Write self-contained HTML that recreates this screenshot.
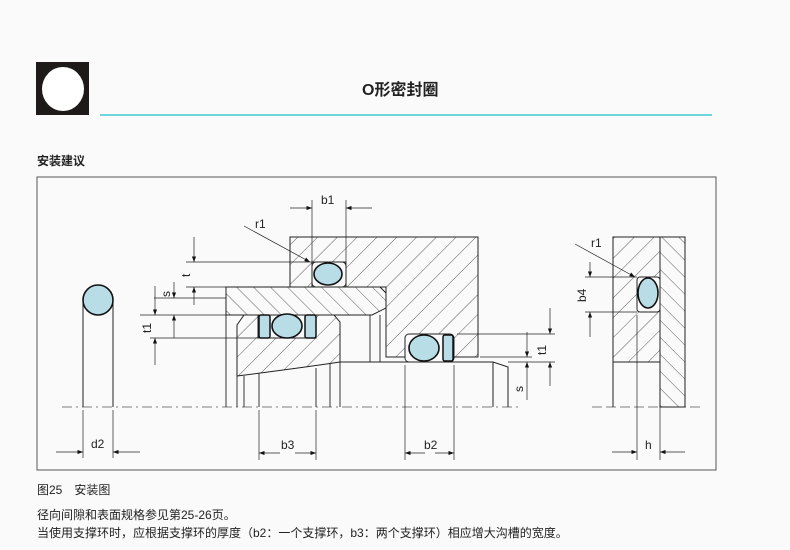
<!DOCTYPE html>
<html><head><meta charset="utf-8"><style>
body{margin:0;background:#fafafa;width:790px;height:550px;overflow:hidden;font-family:"Liberation Sans","Noto Sans CJK SC",sans-serif;}
.t{position:absolute;color:#222;white-space:nowrap;}
</style></head><body>
<div style="position:absolute;left:36px;top:62px;width:53px;height:53px;background:#1e1a1a"></div>
<div style="position:absolute;left:42px;top:67px;width:42px;height:44px;border-radius:50%;background:#fff"></div>
<div style="position:absolute;left:100px;top:114px;width:612px;height:2px;background:#6fd6dc"></div>
<div class="t" style="left:362px;top:76px;font-size:16px;font-weight:bold">O形密封圈</div>
<div class="t" style="left:37px;top:152px;font-size:12px;font-weight:bold">安装建议</div>
<div class="t" style="left:37px;top:481px;font-size:12px">图25　安装图</div>
<div class="t" style="left:37px;top:506px;font-size:12px">径向间隙和表面规格参见第25-26页。</div>
<div class="t" style="left:37px;top:524px;font-size:12px">当使用支撑环时，应根据支撑环的厚度（b2：一个支撑环，b3：两个支撑环）相应增大沟槽的宽度。</div>
<svg width="790" height="550" style="position:absolute;left:0;top:0" font-family="Liberation Sans,sans-serif" font-size="12" fill="none" stroke="#222">
<defs>
<pattern id="h1" width="14" height="14" patternUnits="userSpaceOnUse" patternTransform="rotate(45)"><line x1="0" y1="0" x2="0" y2="14" stroke="#333" stroke-width="0.8"/></pattern>
<pattern id="h2" width="12" height="12" patternUnits="userSpaceOnUse" patternTransform="rotate(-45)"><line x1="0" y1="0" x2="0" y2="12" stroke="#333" stroke-width="0.8"/></pattern>
<marker id="a" markerWidth="8" markerHeight="6" refX="8" refY="3" orient="auto"><path d="M0,0L8,3L0,6z" fill="#111" stroke="none"/></marker>
</defs>
<rect x="37" y="177" width="679" height="293" stroke="#555" stroke-width="1"/>
<line x1="62" y1="407" x2="520" y2="407" stroke="#555" stroke-dasharray="10,4,2,4" stroke-width="0.8"/>
<line x1="592" y1="407" x2="702" y2="407" stroke="#555" stroke-dasharray="10,4" stroke-width="0.8"/>
<line x1="83" y1="300" x2="83" y2="407"/><line x1="113" y1="300" x2="113" y2="407"/>
<circle cx="98" cy="300" r="15" fill="#b9dde6" stroke="#111" stroke-width="1.6"/>
<line x1="83" y1="410" x2="83" y2="458" stroke-width="0.7"/><line x1="113" y1="410" x2="113" y2="458" stroke-width="0.7"/>
<line x1="56" y1="452" x2="83" y2="452" stroke-width="0.7" marker-end="url(#a)"/><line x1="140" y1="452" x2="113" y2="452" stroke-width="0.7" marker-end="url(#a)"/>
<text x="91" y="448" fill="#222" stroke="none">d2</text>
<path d="M290,237H478V357H386V287H346V262H312V287H290Z" fill="url(#h1)" stroke-width="1"/>
<path d="M226,287H380L386,293V308L372,315H226Z" fill="url(#h2)" stroke-width="1"/>
<path d="M244,315H258V338H316V315H334L340,322V362Q300,368 237,376V325Z" fill="url(#h1)" stroke-width="1"/>
<rect x="312" y="262" width="34" height="25" rx="4" fill="#fafafa"/>
<ellipse cx="328" cy="274" rx="14" ry="11" fill="#b9dde6" stroke="#111" stroke-width="1.6"/>
<rect x="259" y="315" width="11" height="23" rx="2" fill="#b9dde6" stroke="#111" stroke-width="1.5"/>
<rect x="305" y="315" width="11" height="23" rx="2" fill="#b9dde6" stroke="#111" stroke-width="1.5"/>
<ellipse cx="287" cy="326" rx="15" ry="12" fill="#b9dde6" stroke="#111" stroke-width="1.6"/>
<g stroke-width="0.9"><line x1="226" y1="287" x2="226" y2="407"/><line x1="237" y1="376" x2="237" y2="407"/><line x1="244" y1="376" x2="244" y2="407"/>
<line x1="259" y1="373" x2="259" y2="407"/><line x1="316" y1="368" x2="316" y2="407"/><line x1="330" y1="364" x2="330" y2="407"/><line x1="340" y1="362" x2="340" y2="407"/>
<line x1="370" y1="315" x2="370" y2="362"/><line x1="380" y1="315" x2="380" y2="362"/></g>
<path d="M340,362H493L508,367V407M493,362V407" stroke-width="1"/>
<rect x="405" y="334" width="49" height="28" rx="4" fill="#fafafa"/>
<ellipse cx="424" cy="348" rx="15" ry="13" fill="#b9dde6" stroke="#111" stroke-width="1.6"/>
<rect x="443" y="335" width="10" height="26" rx="2" fill="#b9dde6" stroke="#111" stroke-width="1.5"/>
<g stroke-width="0.7">
<line x1="312" y1="200" x2="312" y2="262"/><line x1="346" y1="200" x2="346" y2="262"/>
<line x1="290" y1="208" x2="312" y2="208" marker-end="url(#a)"/><line x1="372" y1="208" x2="346" y2="208" marker-end="url(#a)"/>
<line x1="244" y1="226" x2="310" y2="262" marker-end="url(#a)"/>
<line x1="259" y1="410" x2="259" y2="460"/><line x1="316" y1="410" x2="316" y2="460"/>
<line x1="280" y1="453" x2="259" y2="453" marker-end="url(#a)"/><line x1="295" y1="453" x2="316" y2="453" marker-end="url(#a)"/>
<line x1="405" y1="365" x2="405" y2="460"/><line x1="454" y1="365" x2="454" y2="460"/>
<line x1="425" y1="453" x2="405" y2="453" marker-end="url(#a)"/><line x1="435" y1="453" x2="454" y2="453" marker-end="url(#a)"/>
<line x1="186" y1="262" x2="312" y2="262"/><line x1="186" y1="287" x2="226" y2="287"/>
<line x1="154" y1="298" x2="226" y2="298"/><line x1="140" y1="315" x2="237" y2="315"/><line x1="150" y1="338" x2="258" y2="338"/>
<line x1="194" y1="237" x2="194" y2="262" marker-end="url(#a)"/><line x1="194" y1="305" x2="194" y2="287" marker-end="url(#a)"/>
<line x1="174" y1="282" x2="174" y2="298" marker-end="url(#a)"/><line x1="174" y1="338" x2="174" y2="315" marker-end="url(#a)"/>
<line x1="155" y1="286" x2="155" y2="315" marker-end="url(#a)"/><line x1="155" y1="365" x2="155" y2="338" marker-end="url(#a)"/>
<line x1="457" y1="334" x2="555" y2="334"/><line x1="480" y1="357" x2="532" y2="357"/><line x1="508" y1="362" x2="555" y2="362"/>
<line x1="550" y1="308" x2="550" y2="334" marker-end="url(#a)"/><line x1="550" y1="386" x2="550" y2="362" marker-end="url(#a)"/>
<line x1="527" y1="332" x2="527" y2="357" marker-end="url(#a)"/><line x1="527" y1="400" x2="527" y2="362" marker-end="url(#a)"/>
</g>
<g fill="#222" stroke="none">
<text x="321" y="204">b1</text><text x="255" y="228">r1</text><text x="281" y="449">b3</text><text x="424" y="449">b2</text>
<text transform="translate(190,277) rotate(-90)">t</text><text transform="translate(170,297) rotate(-90)">s</text><text transform="translate(151,333) rotate(-90)">t1</text>
<text transform="translate(546,355) rotate(-90)">t1</text><text transform="translate(523,392) rotate(-90)">s</text>
<text transform="translate(586,302) rotate(-90)">b4</text><text x="591" y="247">r1</text><text x="645" y="449">h</text>
</g>
<path d="M613,237H660V362H613Z" fill="url(#h1)" stroke-width="1"/>
<path d="M660,237H685V407H660Z" fill="url(#h2)" stroke-width="1"/>
<line x1="613" y1="362" x2="613" y2="407"/>
<rect x="637" y="277" width="23" height="35" rx="3" fill="#fafafa"/>
<ellipse cx="648" cy="293" rx="10" ry="15" fill="#b9dde6" stroke="#111" stroke-width="1.6"/>
<g stroke-width="0.7">
<line x1="575" y1="244" x2="635" y2="277" marker-end="url(#a)"/>
<line x1="585" y1="277" x2="637" y2="277"/><line x1="585" y1="312" x2="637" y2="312"/>
<line x1="590" y1="262" x2="590" y2="277" marker-end="url(#a)"/><line x1="590" y1="337" x2="590" y2="312" marker-end="url(#a)"/>
<line x1="637" y1="315" x2="637" y2="460"/><line x1="660" y1="407" x2="660" y2="460"/>
<line x1="612" y1="452" x2="637" y2="452" marker-end="url(#a)"/><line x1="685" y1="452" x2="660" y2="452" marker-end="url(#a)"/>
</g>
</svg>
</body></html>
